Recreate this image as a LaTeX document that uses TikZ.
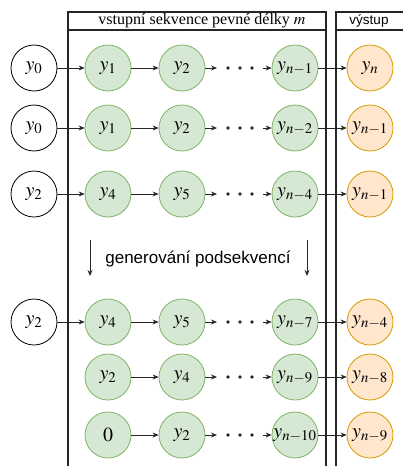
\documentclass[tikz,border=0pt]{standalone}
\usepackage{mathptmx}
\usepackage{fontspec}
\setmainfont{Liberation Serif}
\newfontfamily\sansf{Liberation Sans}
\usetikzlibrary{arrows.meta}
\definecolor{greenfill}{HTML}{D5E8D4}
\definecolor{greenstroke}{HTML}{82B366}
\definecolor{orangefill}{HTML}{FFE6CC}
\definecolor{orangestroke}{HTML}{D79B00}
\definecolor{linec}{HTML}{262626}
\definecolor{framec}{HTML}{262626}
\begin{document}
\begin{tikzpicture}[x=1pt,y=-1pt,
  circ/.style={circle, minimum size=46pt, inner sep=0pt, line width=0.8pt, font=\fontsize{20}{20}\selectfont},
  inp/.style={circ, draw=black, fill=white},
  seqn/.style={circ, draw=greenstroke, fill=greenfill},
  outn/.style={circ, draw=orangestroke, fill=orangefill},
  conn/.style={-{Stealth[length=6pt,width=5pt]}, line width=0.8pt, draw=linec},
  frame/.style={line width=1.3pt, draw=framec},
  dotn/.style={circle, fill=linec, inner sep=0pt, minimum size=3.6pt}
]
\useasboundingbox (0,0) rectangle (403,466);
\clip (0,0) rectangle (403,466);
% frames
\draw[frame] (68,480) -- (68,12) -- (326,12) -- (326,480);
\draw[frame] (68,30) -- (326,30);
\draw[frame] (336,480) -- (336,12) -- (410,12);
\draw[frame] (336,30) -- (410,30);
\node (hdr) at (202,21) {\fontsize{16}{16}\selectfont vstupní sekvence pevné délky $m$};
\node (hdr2) at (369,21) {\sansf\fontsize{13.5}{13.5}\selectfont výstup};
% rows with input
\foreach \r/\yy/\a/\b/\c/\d/\e in {
  1/68/y_0/y_1/y_2/y_{n-1}/y_n,
  2/128/y_0/y_1/y_2/y_{n-2}/y_{n-1},
  3/194/y_2/y_4/y_5/y_{n-4}/y_{n-1},
  4/322/y_2/y_4/y_5/y_{n-7}/y_{n-4}}{
  \node[inp] (a\r) at (34,\yy) {$\a$};
  \node[seqn] (b\r) at (108,\yy) {$\b$};
  \node[seqn] (c\r) at (182,\yy) {$\c$};
  \node[seqn] (d\r) at (295,\yy) {$\d$};
  \node[outn] (e\r) at (370,\yy) {$\e$};
  \node[dotn] (p\r) at (228,\yy) {};
  \node[dotn] (q\r) at (240,\yy) {};
  \node[dotn] (s\r) at (252,\yy) {};
  \draw[conn] (a\r) -- (b\r);
  \draw[conn] (b\r) -- (c\r);
  \draw[conn, shorten >=9pt] (c\r) -- (p\r);
  \draw[conn, shorten <=9pt] (s\r) -- (d\r);
  \draw[conn] (d\r) -- (e\r);
}
% rows without input
\foreach \r/\yy/\b/\c/\d/\e in {
  5/377/y_2/y_4/y_{n-9}/y_{n-8},
  6/435/0/y_2/y_{n-10}/y_{n-9}}{
  \node[seqn] (b\r) at (108,\yy) {$\b$};
  \node[seqn] (c\r) at (182,\yy) {$\c$};
  \node[seqn] (d\r) at (295,\yy) {$\d$};
  \node[outn] (e\r) at (370,\yy) {$\e$};
  \node[dotn] (p\r) at (228,\yy) {};
  \node[dotn] (q\r) at (240,\yy) {};
  \node[dotn] (s\r) at (252,\yy) {};
  \draw[conn] (b\r) -- (c\r);
  \draw[conn, shorten >=9pt] (c\r) -- (p\r);
  \draw[conn, shorten <=9pt] (s\r) -- (d\r);
  \draw[conn] (d\r) -- (e\r);
}
% generation
\coordinate (g1s) at (90,240);
\coordinate (g1e) at (90,276);
\coordinate (g2s) at (307,240);
\coordinate (g2e) at (307,276);
\draw[conn] (g1s) -- (g1e);
\draw[conn] (g2s) -- (g2e);
\node (gen) at (198,259) {\sansf\fontsize{17}{17}\selectfont generování podsekvencí};
\end{tikzpicture}
\end{document}
